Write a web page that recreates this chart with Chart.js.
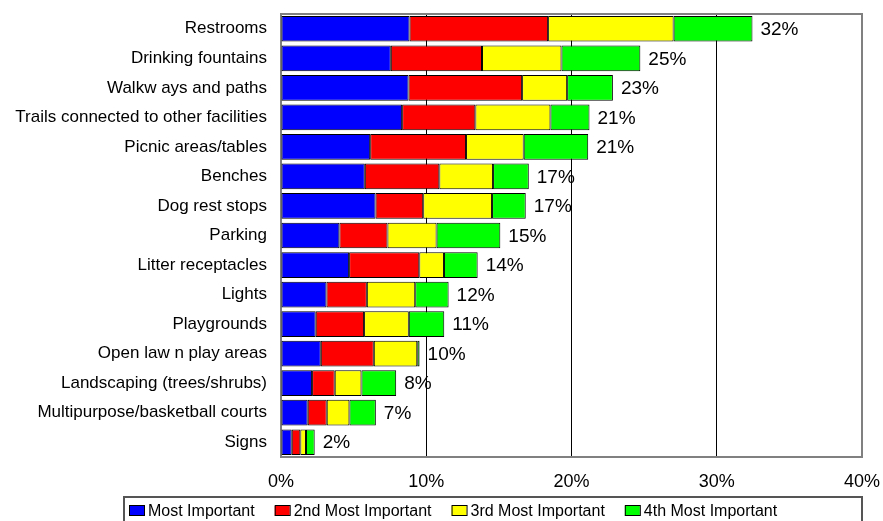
<!DOCTYPE html>
<html>
<head>
<meta charset="utf-8">
<script src="https://cdn.jsdelivr.net/npm/chart.js@4.4.1/dist/chart.umd.min.js"></script>
<style>
    html, body { margin: 0; padding: 0; background: #fff; }
    canvas { display: block; }
</style>
</head>
<body>
<canvas id="amenityChart" width="883" height="521"></canvas>
<script>
// Amenities ranked by importance (share of respondents, %)
const categories = [
    'Restrooms',
    'Drinking fountains',
    'Walkw ays and paths',
    'Trails connected to other facilities',
    'Picnic areas/tables',
    'Benches',
    'Dog rest stops',
    'Parking',
    'Litter receptacles',
    'Lights',
    'Playgrounds',
    'Open law n play areas',
    'Landscaping (trees/shrubs)',
    'Multipurpose/basketball courts',
    'Signs'
];

const mostImportant = [8.85, 7.56, 8.78, 8.34, 6.14, 5.77, 6.51, 4.02, 4.69, 3.13, 2.39, 2.74, 2.14, 1.84, 0.74];
const secondMost    = [9.54, 6.28, 7.82, 5.04, 6.60, 5.13, 3.28, 3.31, 4.83, 2.78, 3.33, 3.65, 1.56, 1.31, 0.59];
const thirdMost     = [8.64, 5.47, 3.10, 5.17, 3.97, 3.70, 4.74, 3.38, 1.70, 3.33, 3.08, 2.99, 1.84, 1.56, 0.39];
const fourthMost    = [5.43, 5.43, 3.15, 2.69, 4.44, 2.46, 2.32, 4.39, 2.32, 2.30, 2.44, 0.16, 2.39, 1.82, 0.60];

const totalLabels = ['32%', '25%', '23%', '21%', '21%', '17%', '17%', '15%', '14%', '12%', '11%', '10%', '8%', '7%', '2%'];

const xMin = 0;
const xMax = 40;
const xStep = 10;

const FONT = '"Liberation Sans", Arial, sans-serif';

// Total % printed after each bar
const totalsPlugin = {
    id: 'totals',
    afterDatasetsDraw(chart) {
        const ctx = chart.ctx;
        const meta = chart.getDatasetMeta(chart.data.datasets.length - 1);
        ctx.save();
        ctx.font = '19px ' + FONT;
        ctx.fillStyle = '#000';
        ctx.textAlign = 'left';
        ctx.textBaseline = 'middle';
        meta.data.forEach((bar, i) => {
            ctx.fillText(totalLabels[i], bar.x + 8, bar.y + 1);
        });
        ctx.restore();
    }
};

// Gray frame round the plot area
const framePlugin = {
    id: 'frame',
    beforeDatasetsDraw(chart) {
        const a = chart.chartArea;
        const ctx = chart.ctx;
        ctx.save();
        ctx.strokeStyle = '#808080';
        ctx.lineWidth = 2;
        ctx.strokeRect(a.left, a.top, a.right - a.left, a.bottom - a.top);
        ctx.restore();
    }
};

// Boxed legend along the bottom
const boxLegendPlugin = {
    id: 'boxLegend',
    afterDraw(chart) {
        const ctx = chart.ctx;
        ctx.save();
        ctx.strokeStyle = '#555';
        ctx.lineWidth = 2;
        ctx.strokeRect(124, 497, 738, 40);

        ctx.font = '16px ' + FONT;
        ctx.textBaseline = 'middle';
        let x = 129;
        chart.data.datasets.forEach(ds => {
            ctx.fillStyle = ds.backgroundColor;
            ctx.fillRect(x, 506, 15, 10);
            ctx.strokeStyle = '#000';
            ctx.lineWidth = 1;
            ctx.strokeRect(x + 0.5, 505.5, 15, 10);
            ctx.fillStyle = '#000';
            ctx.fillText(ds.label, x + 19, 512);
            x += 19 + ctx.measureText(ds.label).width + 20;
        });
        ctx.restore();
    }
};

const seriesStyle = (label, color, data) => ({
    label: label,
    data: data,
    backgroundColor: color,
    borderColor: '#000',
    borderWidth: 1,
    borderSkipped: false,
    barPercentage: 0.87,
    categoryPercentage: 1.0
});

new Chart(document.getElementById('amenityChart'), {
    type: 'bar',
    data: {
        labels: categories,
        datasets: [
            seriesStyle('Most Important', '#0000FF', mostImportant),
            seriesStyle('2nd Most Important', '#FF0000', secondMost),
            seriesStyle('3rd Most Important', '#FFFF00', thirdMost),
            seriesStyle('4th Most Important', '#00FF00', fourthMost)
        ]
    },
    options: {
        indexAxis: 'y',
        responsive: false,
        animation: false,
        layout: {
            padding: { top: 14, right: 21, bottom: 0, left: 0 }
        },
        plugins: {
            legend: { display: false },
            tooltip: { enabled: false }
        },
        scales: {
            x: {
                stacked: true,
                min: xMin,
                max: xMax,
                afterFit: (scale) => {
                    scale.height = 64;
                    scale.paddingLeft = 0;
                    scale.paddingRight = 0;
                },
                grid: {
                    drawTicks: false,
                    color: (c) => (c.tick && (c.tick.value === xMin || c.tick.value === xMax)) ? 'rgba(0,0,0,0)' : '#000',
                    lineWidth: 1
                },
                border: { display: false },
                ticks: {
                    stepSize: xStep,
                    padding: 14,
                    color: '#000',
                    font: { family: FONT, size: 18 },
                    callback: (v) => v + '%'
                }
            },
            y: {
                stacked: true,
                afterFit: (scale) => {
                    scale.width = 281;
                    scale.paddingTop = 0;
                    scale.paddingBottom = 0;
                },
                grid: { display: false, drawTicks: false },
                border: { display: false },
                ticks: {
                    padding: 14,
                    color: '#000',
                    font: { family: FONT, size: 17 }
                }
            }
        }
    },
    plugins: [framePlugin, totalsPlugin, boxLegendPlugin]
});
</script>
</body>
</html>
